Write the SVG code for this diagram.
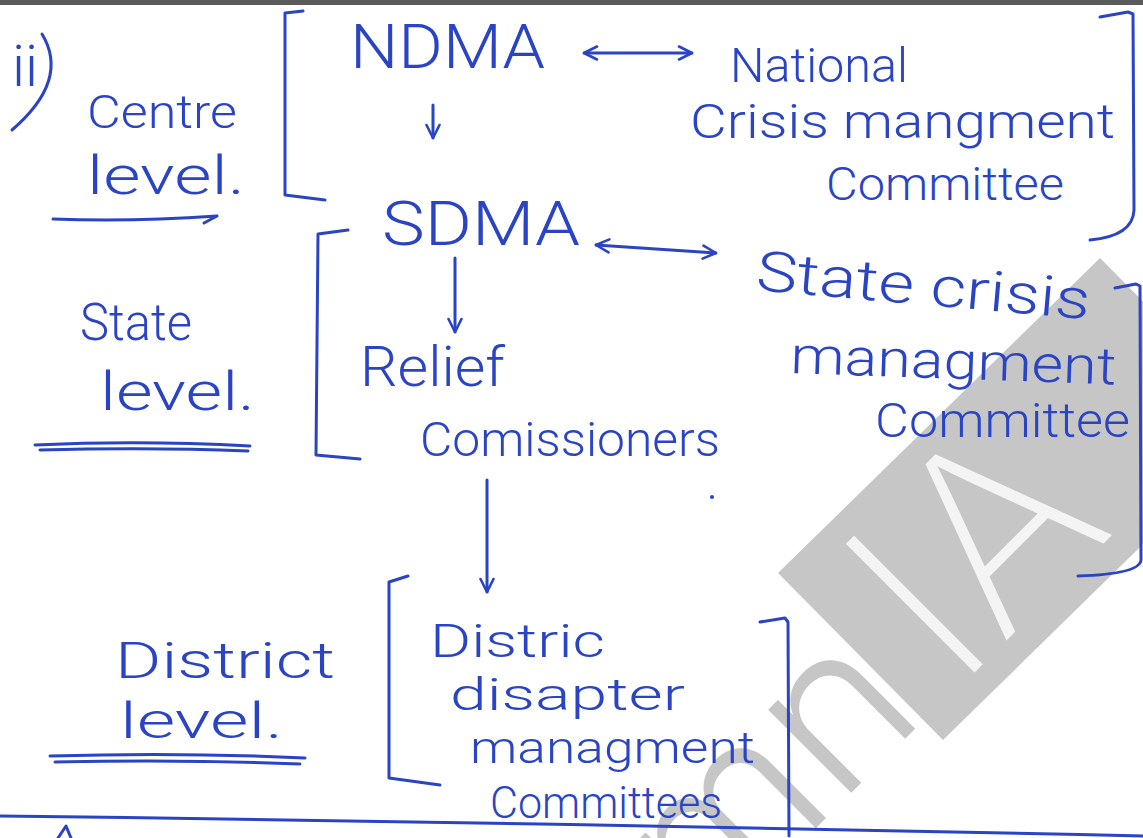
<svg xmlns="http://www.w3.org/2000/svg" width="1143" height="838" viewBox="0 0 1143 838">
<style>
.ink{fill:#2a44c4;font-family:Roboto,"Liberation Sans",Arial,sans-serif;font-weight:300;}
.ln{fill:none;stroke:#2a44c4;stroke-width:3;stroke-linecap:round;stroke-linejoin:round;}
.wm{fill:#c6c6c6;}
</style>
<defs>
<marker id="head" viewBox="0 0 16 16" refX="15" refY="8" markerWidth="16" markerHeight="16" markerUnits="userSpaceOnUse" orient="auto-start-reverse">
<path d="M2,1.5 L15,8 L2,14.5" fill="none" stroke="#2a44c4" stroke-width="2.6" stroke-linecap="round" stroke-linejoin="round"/>
</marker>
</defs>
<rect x="0" y="0" width="1143" height="838" fill="#ffffff"/>
<rect x="0" y="0" width="1143" height="5" fill="#5a5a5a"/>

<g id="watermark">
<polygon class="wm" points="778,573 1100,258 1265,425 943,740"/>
<text transform="translate(956,691) rotate(-45)" font-family="Inter,'Liberation Sans',sans-serif" font-weight="200" font-size="250" fill="#f4f4f4">IA</text>
<text transform="translate(928,716) rotate(-45)" text-anchor="end" font-family="Inter,'Liberation Sans',sans-serif" font-weight="300" font-size="215" fill="#c6c6c6">mn</text>
</g>

<g id="heading">
<text class="ink" x="12" y="86" font-size="58">ii</text>
<path class="ln" d="M42,34 Q70,80 12,130"/>
</g>

<g id="centre-level">
<text class="ink" x="87" y="128" font-size="46" textLength="150" lengthAdjust="spacingAndGlyphs">Centre</text>
<text class="ink" x="87" y="194" font-size="54" textLength="158" lengthAdjust="spacingAndGlyphs">level.</text>
<path class="ln" d="M53,219 Q130,222 217,216 M204,223 L217,216"/>
</g>

<g id="state-level">
<text class="ink" x="80" y="340" font-size="52" textLength="112" lengthAdjust="spacingAndGlyphs">State</text>
<text class="ink" x="100" y="410" font-size="54" textLength="155" lengthAdjust="spacingAndGlyphs">level.</text>
<path class="ln" d="M35,445 Q140,440 250,446 M40,450 Q150,447 248,451"/>
</g>

<g id="district-level">
<text class="ink" x="115" y="678" font-size="50" textLength="220" lengthAdjust="spacingAndGlyphs">District</text>
<text class="ink" x="120" y="738" font-size="50" textLength="163" lengthAdjust="spacingAndGlyphs">level.</text>
<path class="ln" d="M50,756 Q180,752 305,758 M55,762 Q180,759 300,764"/>
</g>

<g id="centre-brackets">
<path class="ln" d="M303,11 L285,13 L285,195 L325,200"/>
<path class="ln" d="M1100,17 L1128,12 L1133,14 L1134,210 Q1133,236 1090,240"/>
</g>

<g id="ndma">
<text class="ink" x="350" y="68" font-size="62" textLength="195" lengthAdjust="spacingAndGlyphs">NDMA</text>
</g>

<g id="ncmc">
<text class="ink" x="730" y="82" font-size="48" textLength="178" lengthAdjust="spacingAndGlyphs">National</text>
<text class="ink" x="690" y="138" font-size="48" textLength="425" lengthAdjust="spacingAndGlyphs">Crisis mangment</text>
<text class="ink" x="826" y="200" font-size="46" textLength="238" lengthAdjust="spacingAndGlyphs">Committee</text>
</g>

<g id="sdma">
<text class="ink" x="382" y="245" font-size="62" textLength="198" lengthAdjust="spacingAndGlyphs">SDMA</text>
</g>

<g id="state-brackets">
<path class="ln" d="M348,230 L318,234 L316,455 L360,459"/>
<path class="ln" d="M1115,288 L1136,284 L1140,286 L1141,560 Q1140,574 1078,576"/>
</g>

<g id="scmc">
<text class="ink" transform="translate(755,290) rotate(5)" font-size="56" textLength="335" lengthAdjust="spacingAndGlyphs">State crisis</text>
<text class="ink" transform="translate(790,373) rotate(2)" font-size="52" textLength="326" lengthAdjust="spacingAndGlyphs">managment</text>
<text class="ink" x="875" y="437" font-size="48" textLength="255" lengthAdjust="spacingAndGlyphs">Committee</text>
</g>

<g id="relief-commissioner">
<text class="ink" x="360" y="386" font-size="56" textLength="145" lengthAdjust="spacingAndGlyphs">Relief</text>
<text class="ink" x="420" y="456" font-size="48" textLength="300" lengthAdjust="spacingAndGlyphs">Comissioners</text>
<circle cx="712" cy="497" r="2" fill="#2a44c4"/>
</g>

<g id="district-brackets">
<path class="ln" d="M408,576 L389,582 L389,778 L440,785"/>
<path class="ln" d="M760,622 L785,618 L788,622 L789,836"/>
</g>

<g id="ddmc">
<text class="ink" x="430" y="657" font-size="46" textLength="175" lengthAdjust="spacingAndGlyphs">Distric</text>
<text class="ink" x="450" y="710" font-size="44" textLength="235" lengthAdjust="spacingAndGlyphs">disapter</text>
<text class="ink" x="470" y="763" font-size="44" textLength="285" lengthAdjust="spacingAndGlyphs">managment</text>
<text class="ink" x="490" y="818" font-size="44" textLength="232" lengthAdjust="spacingAndGlyphs">Committees</text>
</g>

<g id="connectors">
<path class="ln" d="M584,53 L692,53" marker-start="url(#head)" marker-end="url(#head)"/>
<path class="ln" d="M433,105 L433,138" marker-end="url(#head)"/>
<path class="ln" d="M596,245 L716,253" marker-start="url(#head)" marker-end="url(#head)"/>
<path class="ln" d="M455,258 L455,332" marker-end="url(#head)"/>
<path class="ln" d="M487,480 L487,592" marker-end="url(#head)"/>
</g>

<g id="page-rule">
<path class="ln" d="M0,816 Q500,822 1143,836"/>
<path class="ln" d="M58,838 L66,826 L71,838"/>
</g>
</svg>
